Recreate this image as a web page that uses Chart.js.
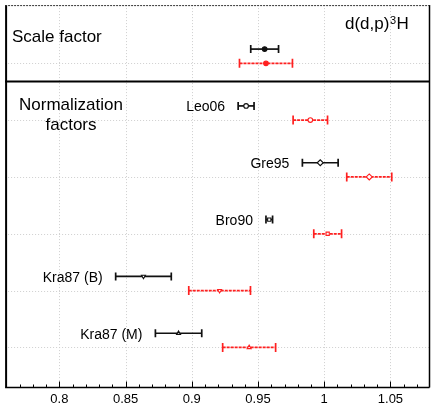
<!DOCTYPE html>
<html>
<head>
<meta charset="utf-8">
<script src="https://cdn.jsdelivr.net/npm/chart.js@4/dist/chart.umd.min.js"></script>
<style>
  html, body { margin: 0; padding: 0; background: #fff; }
  canvas { display: block; }
</style>
</head>
<body>
<canvas id="chart" width="436" height="407"></canvas>
<script>
// Row names, top to bottom
const rowNames = ['Scale factor', 'Leo06', 'Gre95', 'Bro90', 'Kra87 (B)', 'Kra87 (M)'];

// Black (upper) points of each row
const blackValues = [0.955, 0.941, 0.997, 0.9585, 0.8635, 0.890];
const blackErrors = [0.0105, 0.006, 0.0135, 0.0025, 0.021, 0.0175];

// Red (lower) points of each row
const redValues = [0.956, 0.9895, 1.034, 1.0026, 0.921, 0.9433];
const redErrors = [0.020, 0.013, 0.017, 0.0105, 0.0233, 0.020];

// Marker per row
const markerStyles = ['circle', 'circle', 'rectRot', 'rect', 'triangle', 'triangle'];
const markerRotation = [0, 0, 0, 0, 180, 0];
const markerFilled = [true, false, false, false, false, false];

// Axis ticks
const majorTicks = [0.8, 0.85, 0.9, 0.95, 1, 1.05];
const minorStep = 0.01;

const FONT = '"Liberation Sans", Arial, Helvetica, sans-serif';
const nRows = rowNames.length;
const redY = i => nRows - i;
const blackY = i => nRows - i + 0.25;

const blackPoints = blackValues.map((v, i) => ({ x: v, y: blackY(i) }));
const redPoints = redValues.map((v, i) => ({ x: v, y: redY(i) }));

const decorPlugin = {
    id: 'decor',
    beforeDatasetsDraw(chart) {
        const { ctx, chartArea: a, scales: { x, y } } = chart;
        ctx.save();
        // dotted grid
        ctx.strokeStyle = '#cfcfcf';
        ctx.lineWidth = 1;
        ctx.setLineDash([1, 2]);
        majorTicks.forEach(t => {
            const px = Math.round(x.getPixelForValue(t)) + 0.5;
            ctx.beginPath(); ctx.moveTo(px, a.top); ctx.lineTo(px, a.bottom); ctx.stroke();
        });
        for (let i = 0; i < nRows; i++) {
            const py = Math.round(y.getPixelForValue(redY(i))) + 0.5;
            ctx.beginPath(); ctx.moveTo(a.left, py); ctx.lineTo(a.right, py); ctx.stroke();
        }
        // error bars
        const drawBar = (v, e, yy, color, dash, cap) => {
            const py = y.getPixelForValue(yy);
            const x0 = x.getPixelForValue(v - e);
            const x1 = x.getPixelForValue(v + e);
            ctx.strokeStyle = color;
            ctx.lineWidth = 1.7;
            ctx.setLineDash(dash);
            ctx.beginPath(); ctx.moveTo(x0, py); ctx.lineTo(x1, py); ctx.stroke();
            ctx.setLineDash([]);
            ctx.beginPath();
            ctx.moveTo(x0, py - cap); ctx.lineTo(x0, py + cap);
            ctx.moveTo(x1, py - cap); ctx.lineTo(x1, py + cap);
            ctx.stroke();
        };
        for (let i = 0; i < nRows; i++) {
            drawBar(blackValues[i], blackErrors[i], blackY(i), '#111', [], 4);
            drawBar(redValues[i], redErrors[i], redY(i), '#ff2020', [3, 1], 4.5);
        }
        ctx.restore();
    },
    afterDraw(chart) {
        const { ctx, chartArea: a, scales: { x, y } } = chart;
        ctx.save();
        ctx.setLineDash([]);
        // separator between scale factor and normalization factors
        const sep = y.getPixelForValue(redY(0) - 0.32);
        ctx.strokeStyle = '#000';
        ctx.lineWidth = 2;
        ctx.beginPath(); ctx.moveTo(a.left, sep); ctx.lineTo(a.right, sep); ctx.stroke();
        // frame
        ctx.lineWidth = 2;
        ctx.beginPath(); ctx.moveTo(a.left + 1, a.top); ctx.lineTo(a.left + 1, a.bottom); ctx.stroke();
        ctx.lineWidth = 1.5;
        ctx.beginPath();
        ctx.moveTo(a.left, a.bottom); ctx.lineTo(a.right, a.bottom);
        ctx.moveTo(a.right, a.top); ctx.lineTo(a.right, a.bottom);
        ctx.stroke();
        ctx.strokeStyle = '#333';
        ctx.lineWidth = 1;
        ctx.setLineDash([2, 1]);
        ctx.beginPath(); ctx.moveTo(a.left, a.top + 0.5); ctx.lineTo(a.right, a.top + 0.5); ctx.stroke();
        ctx.setLineDash([]);
        // bottom ticks, pointing inward
        ctx.strokeStyle = '#000';
        ctx.lineWidth = 1;
        const start = Math.ceil(x.min / minorStep) * minorStep;
        for (let t = start; t <= x.max + 1e-9; t += minorStep) {
            const isMajor = majorTicks.some(m => Math.abs(m - t) < 1e-6);
            const px = Math.round(x.getPixelForValue(t)) + 0.5;
            ctx.beginPath();
            ctx.moveTo(px, a.bottom);
            ctx.lineTo(px, a.bottom - (isMajor ? 6 : 3));
            ctx.stroke();
        }
        // texts
        ctx.fillStyle = '#000';
        ctx.textBaseline = 'alphabetic';
        ctx.font = '17px ' + FONT;
        ctx.textAlign = 'left';
        ctx.fillText(rowNames[0], 12, 42);
        ctx.textAlign = 'center';
        ctx.fillText('Normalization', 71, 110);
        ctx.fillText('factors', 71, 130);
        // reaction label with superscript
        ctx.textAlign = 'left';
        let tx = 345;
        ctx.fillText('d(d,p)', tx, 29);
        tx += ctx.measureText('d(d,p)').width + 0.5;
        ctx.font = '11px ' + FONT;
        ctx.fillText('3', tx, 24);
        tx += ctx.measureText('3').width + 0.5;
        ctx.font = '17px ' + FONT;
        ctx.fillText('H', tx, 29);
        // row labels left of the black bars
        ctx.font = '14px ' + FONT;
        ctx.textAlign = 'right';
        for (let i = 1; i < nRows; i++) {
            const px = x.getPixelForValue(blackValues[i] - blackErrors[i]) - 13;
            const py = y.getPixelForValue(blackY(i)) + 5.5;
            ctx.fillText(rowNames[i], px, py);
        }
        ctx.restore();
    }
};

new Chart(document.getElementById('chart'), {
    type: 'scatter',
    data: {
        datasets: [
            {
                label: 'black',
                data: blackPoints,
                pointStyle: markerStyles,
                rotation: markerRotation,
                pointRadius: markerStyles.map(s => s === 'rectRot' ? 3 : 2.3),
                borderColor: '#111',
                borderWidth: 1.1,
                backgroundColor: markerFilled.map(f => f ? '#111' : '#fff')
            },
            {
                label: 'red',
                data: redPoints,
                pointStyle: markerStyles,
                rotation: markerRotation,
                pointRadius: markerStyles.map(s => s === 'rectRot' ? 3 : 2.3),
                borderColor: '#ff2020',
                borderWidth: 1.1,
                backgroundColor: markerFilled.map(f => f ? '#ff2020' : '#fff')
            }
        ]
    },
    options: {
        responsive: false,
        animation: false,
        events: [],
        layout: { padding: { left: 2, right: 6.5, top: 2, bottom: 0 } },
        plugins: { legend: { display: false }, tooltip: { enabled: false } },
        scales: {
            x: {
                type: 'linear',
                min: 0.759,
                max: 1.0795,
                grid: { display: false, drawTicks: false },
                border: { display: false },
                afterBuildTicks: scale => { scale.ticks = majorTicks.map(v => ({ value: v })); },
                afterFit: scale => { scale.height = 19.5; },
                ticks: {
                    color: '#000',
                    padding: 4,
                    font: { family: FONT, size: 13 },
                    callback: v => String(v)
                }
            },
            y: {
                type: 'linear',
                display: false,
                min: 0.295,
                max: 7.024
            }
        }
    },
    plugins: [decorPlugin]
});
</script>
</body>
</html>
